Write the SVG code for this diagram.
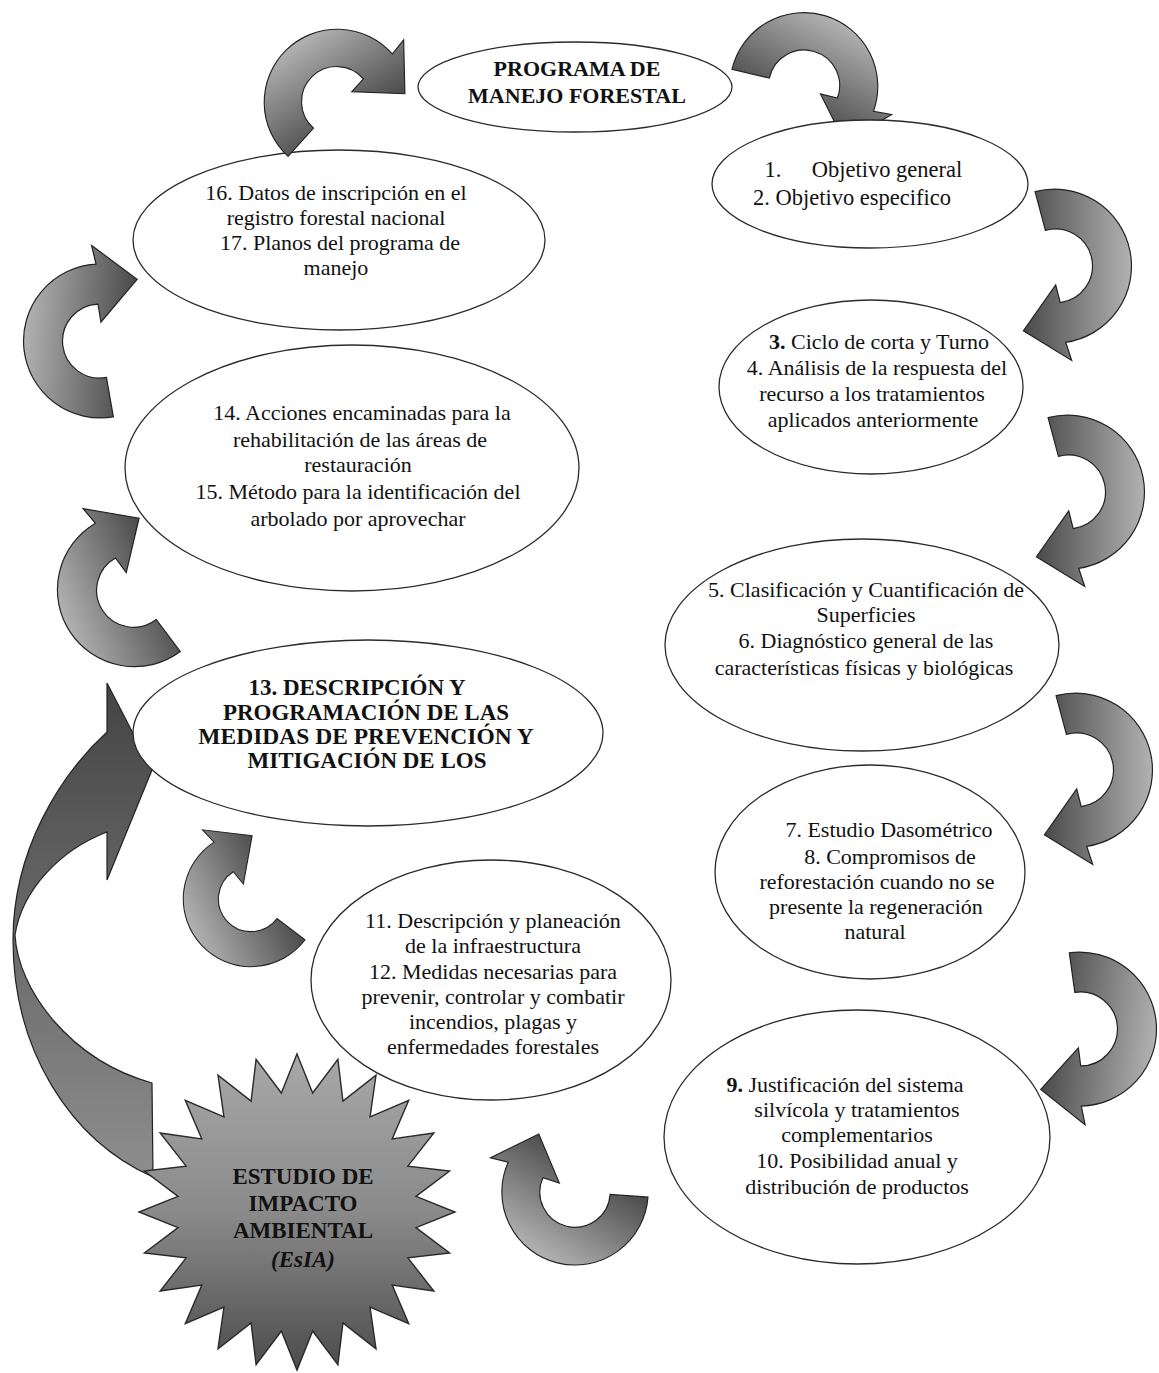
<svg xmlns="http://www.w3.org/2000/svg" xmlns:xlink="http://www.w3.org/1999/xlink" width="1159" height="1373" viewBox="0 0 1159 1373">
<style>
.el{fill:#fff;stroke:#2b2b2b;stroke-width:1.3}
.ar{stroke:#222;stroke-width:1.2;stroke-linejoin:miter}
.t{font-family:"Liberation Serif","Times New Roman",serif;font-size:22px;fill:#111;text-anchor:middle}
.b{font-weight:bold}
.h{font-family:"Liberation Serif","Times New Roman",serif;font-size:22px;font-weight:bold;fill:#111;text-anchor:middle}
</style>
<defs>
<linearGradient id="ga" x1="0" y1="0" x2="1" y2="0">
<stop offset="0" stop-color="#4a4a4a"/>
<stop offset="1" stop-color="#b2b2b2"/>
</linearGradient>
<linearGradient id="gbig" x1="0" y1="0" x2="0" y2="1">
<stop offset="0" stop-color="#444"/>
<stop offset="1" stop-color="#8e8e8e"/>
</linearGradient>
<linearGradient id="gstar" x1="0" y1="0" x2="0" y2="1">
<stop offset="0" stop-color="#a8a8a8"/>
<stop offset="0.5" stop-color="#8a8a8a"/>
<stop offset="1" stop-color="#4c4c4c"/>
</linearGradient>
<path id="arr" class="ar" fill="url(#ga)" d="M-19.9,-74.4 A77,77 0 1 1 10.7,76.3 L16.7,94.5 L-31.6,64.7 L0.7,19 L5.2,36.6 A37,37 0 1 0 -9.6,-35.7 Z"/>
<path id="arrL" class="ar" fill="url(#ga)" d="M-36.15,-67.98 A77,77 0 1 1 10.7,76.3 L16.7,94.5 L-31.6,64.7 L0.7,19 L5.2,36.6 A37,37 0 1 0 -17.37,-32.67 Z"/>
</defs>
<rect width="1159" height="1373" fill="#fff"/>

<g id="connectors-back">
<use xlink:href="#arr" transform="translate(804,86) rotate(-62) scale(0.96)"/>
<path id="big-arrow" class="ar" fill="url(#gbig)" d="M153,1177 C70,1140 13,1050 13,940 C13,850 60,775 107,732 L107,683 L152,770 L107,880 L107,832 C60,850 22,890 15,935 C18,990 70,1060 152,1083 Z"/>
</g>

<g id="node-esia">
<polygon fill="url(#gstar)" stroke="#2a2a2a" stroke-width="1.4" points="297,1054 312.66,1093.03 337.89,1059.38 342.92,1101.13 376,1075.17 370.05,1116.8 408.72,1100.28 392.2,1138.95 433.83,1133 407.87,1166.08 449.62,1171.11 415.97,1196.34 455,1212 415.97,1227.66 449.62,1252.89 407.87,1257.92 433.83,1291 392.2,1285.05 408.72,1323.72 370.05,1307.2 376,1348.83 342.92,1322.87 337.89,1364.62 312.66,1330.97 297,1370 281.34,1330.97 256.11,1364.62 251.08,1322.87 218,1348.83 223.95,1307.2 185.28,1323.72 201.8,1285.05 160.17,1291 186.13,1257.92 144.38,1252.89 178.03,1227.66 139,1212 178.03,1196.34 144.38,1171.11 186.13,1166.08 160.17,1133 201.8,1138.95 185.28,1100.28 223.95,1116.8 218,1075.17 251.08,1101.13 256.11,1059.38 281.34,1093.03"/>
<text class="h" style="font-size:23px" x="303" y="1184">ESTUDIO DE</text>
<text class="h" style="font-size:23px" x="303" y="1211">IMPACTO</text>
<text class="h" style="font-size:23px" x="303" y="1238">AMBIENTAL</text>
<text class="h" style="font-size:23px;font-style:italic" x="303" y="1267">(EsIA)</text>
</g>

<g id="node-programa">
<ellipse class="el" cx="575" cy="87" rx="157" ry="45"/>
<text class="h" x="577" y="76">PROGRAMA DE</text>
<text class="h" x="577" y="103">MANEJO FORESTAL</text>
</g>

<g id="node-1-2">
<ellipse class="el" cx="870" cy="184" rx="158" ry="64"/>
<text class="t" style="font-size:22.5px" y="177"><tspan x="773">1.</tspan><tspan x="887">Objetivo general</tspan></text>
<text class="t" style="font-size:22.5px" x="852" y="205">2. Objetivo especifico</text>
</g>

<g id="node-16-17">
<ellipse class="el" cx="339" cy="240" rx="206" ry="90"/>
<text class="t" x="336" y="200">16. Datos de inscripción en el</text>
<text class="t" x="336" y="225">registro forestal nacional</text>
<text class="t" x="340" y="250">17. Planos del programa de</text>
<text class="t" x="336" y="275">manejo</text>
</g>

<g id="node-3-4">
<ellipse class="el" cx="871" cy="387" rx="152" ry="87"/>
<text class="t" x="879" y="349"><tspan class="b">3.</tspan> Ciclo de corta y Turno</text>
<text class="t" x="877" y="375">4. Análisis de la respuesta del</text>
<text class="t" x="872" y="401">recurso a los tratamientos</text>
<text class="t" x="873" y="427">aplicados anteriormente</text>
</g>

<g id="node-14-15">
<ellipse class="el" cx="352" cy="468" rx="227" ry="123"/>
<text class="t" x="362" y="420">14. Acciones encaminadas para la</text>
<text class="t" x="360" y="447">rehabilitación de las áreas de</text>
<text class="t" x="358" y="472">restauración</text>
<text class="t" x="358" y="499">15. Método para la identificación del</text>
<text class="t" x="358" y="526">arbolado por aprovechar</text>
</g>

<g id="node-5-6">
<ellipse class="el" cx="862" cy="645" rx="197" ry="106"/>
<text class="t" x="866" y="597">5. Clasificación y Cuantificación de</text>
<text class="t" x="866" y="622">Superficies</text>
<text class="t" x="866" y="648">6. Diagnóstico general de las</text>
<text class="t" x="864" y="675">características físicas y biológicas</text>
</g>

<g id="node-13">
<ellipse class="el" cx="368" cy="733" rx="235" ry="93"/>
<text class="h" style="font-size:23px" x="357" y="695">13. DESCRIPCIÓN Y</text>
<text class="h" style="font-size:23px" x="366" y="720">PROGRAMACIÓN DE LAS</text>
<text class="h" style="font-size:23.5px" x="366" y="744">MEDIDAS DE PREVENCIÓN Y</text>
<text class="h" style="font-size:23px" x="367" y="768">MITIGACIÓN DE LOS</text>
</g>

<g id="node-7-8">
<ellipse class="el" cx="870" cy="872" rx="155" ry="107"/>
<text class="t" x="889" y="837">7. Estudio Dasométrico</text>
<text class="t" x="890" y="864">8. Compromisos de</text>
<text class="t" x="877" y="889">reforestación cuando no se</text>
<text class="t" x="876" y="914">presente la regeneración</text>
<text class="t" x="875" y="939">natural</text>
</g>

<g id="node-11-12">
<ellipse class="el" cx="491" cy="980" rx="180" ry="120"/>
<text class="t" x="493" y="928">11. Descripción y planeación</text>
<text class="t" x="493" y="953">de la infraestructura</text>
<text class="t" x="493" y="979">12. Medidas necesarias para</text>
<text class="t" x="493" y="1004">prevenir, controlar y combatir</text>
<text class="t" x="493" y="1029">incendios, plagas y</text>
<text class="t" x="493" y="1054">enfermedades forestales</text>
</g>

<g id="node-9-10">
<ellipse class="el" cx="857" cy="1137" rx="193" ry="127"/>
<text class="t" x="845" y="1092"><tspan class="b">9.</tspan> Justificación del sistema</text>
<text class="t" x="857" y="1117">silvícola y tratamientos</text>
<text class="t" x="857" y="1142">complementarios</text>
<text class="t" x="857" y="1168">10. Posibilidad anual y</text>
<text class="t" x="857" y="1194">distribución de productos</text>
</g>

<g id="connectors">
<use xlink:href="#arr" transform="translate(337,102) rotate(237) scale(0.95)"/>
<use xlink:href="#arr" transform="translate(1055,266)"/>
<use xlink:href="#arr" transform="translate(1068,492)"/>
<use xlink:href="#arr" transform="translate(1076,770)"/>
<use xlink:href="#arr" transform="translate(1080,1029) rotate(7)"/>
<use xlink:href="#arr" transform="translate(100,341) rotate(185)"/>
<use xlink:href="#arr" transform="translate(134,590) rotate(158)"/>
<use xlink:href="#arrL" transform="translate(251,899) rotate(155) scale(0.88)"/>
<use xlink:href="#arrL" transform="translate(575,1192) rotate(122) scale(0.95)"/>
</g>
</svg>
